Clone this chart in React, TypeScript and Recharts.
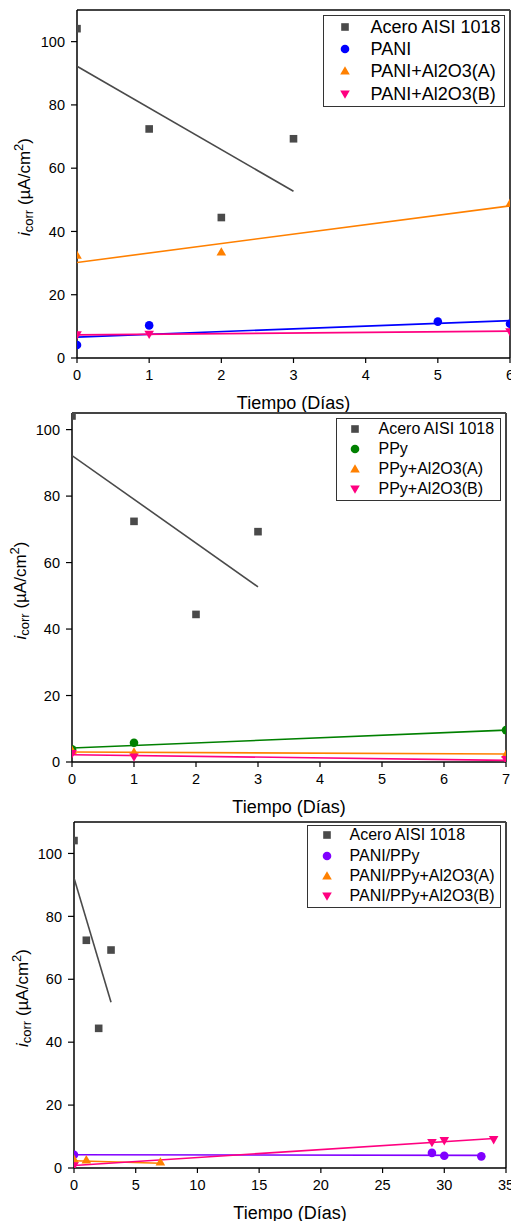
import React from 'react';
import { ComposedChart, Scatter, XAxis, YAxis, ReferenceLine, Legend } from 'recharts';

const FONT = '"Liberation Sans", Arial, Helvetica, sans-serif';

type Pt = { x: number; y: number };
type Kind = 'square' | 'circle' | 'up' | 'down';

// ---------- shared steel data ----------
const aceroPts: Pt[] = [{ x: 0, y: 104.1 }, { x: 1, y: 72.4 }, { x: 2, y: 44.4 }, { x: 3, y: 69.3 }];
const aceroFit: Pt[] = [{ x: 0, y: 92.2 }, { x: 3, y: 52.7 }];

// ---------- panel 1 ----------
const p1Names = ['Acero AISI 1018', 'PANI', 'PANI+Al2O3(A)', 'PANI+Al2O3(B)'];
const p1XTicks = [0, 1, 2, 3, 4, 5, 6];
const p1Pani: Pt[] = [{ x: 0, y: 4.1 }, { x: 1, y: 10.3 }, { x: 5, y: 11.5 }, { x: 6, y: 10.8 }];
const p1PaniFit: Pt[] = [{ x: 0, y: 6.6 }, { x: 6, y: 11.8 }];
const p1A: Pt[] = [{ x: 0, y: 32.5 }, { x: 2, y: 33.5 }, { x: 6, y: 48.9 }];
const p1AFit: Pt[] = [{ x: 0, y: 30.2 }, { x: 6, y: 48.1 }];
const p1B: Pt[] = [{ x: 0, y: 7.3 }, { x: 1, y: 7.5 }, { x: 6, y: 8.3 }];
const p1BFit: Pt[] = [{ x: 0, y: 7.3 }, { x: 6, y: 8.5 }];

// ---------- panel 2 ----------
const p2Names = ['Acero AISI 1018', 'PPy', 'PPy+Al2O3(A)', 'PPy+Al2O3(B)'];
const p2XTicks = [0, 1, 2, 3, 4, 5, 6, 7];
const p2PPy: Pt[] = [{ x: 0, y: 3.8 }, { x: 1, y: 5.8 }, { x: 7, y: 9.6 }];
const p2PPyFit: Pt[] = [{ x: 0, y: 4.2 }, { x: 7, y: 9.6 }];
const p2A: Pt[] = [{ x: 0, y: 3.5 }, { x: 1, y: 3.0 }, { x: 7, y: 2.3 }];
const p2AFit: Pt[] = [{ x: 0, y: 3.0 }, { x: 7, y: 2.4 }];
const p2B: Pt[] = [{ x: 0, y: 2.5 }, { x: 1, y: 1.5 }, { x: 7, y: 0.7 }];
const p2BFit: Pt[] = [{ x: 0, y: 2.2 }, { x: 7, y: 0.5 }];

// ---------- panel 3 ----------
const p3Names = ['Acero AISI 1018', 'PANI/PPy', 'PANI/PPy+Al2O3(A)', 'PANI/PPy+Al2O3(B)'];
const p3XTicks = [0, 5, 10, 15, 20, 25, 30, 35];
const p3Mix: Pt[] = [{ x: 0, y: 4.2 }, { x: 29, y: 4.8 }, { x: 30, y: 3.9 }, { x: 33, y: 3.7 }];
const p3MixFit: Pt[] = [{ x: 0, y: 4.2 }, { x: 33, y: 4.0 }];
const p3A: Pt[] = [{ x: 0, y: 2.8 }, { x: 1, y: 2.6 }, { x: 7, y: 1.9 }];
const p3AFit: Pt[] = [{ x: 0, y: 2.3 }, { x: 7, y: 1.5 }];
const p3B: Pt[] = [{ x: 0, y: 0.7 }, { x: 29, y: 8.1 }, { x: 30, y: 8.7 }, { x: 34, y: 9.0 }];
const p3BFit: Pt[] = [{ x: 0, y: 0.8 }, { x: 34, y: 9.4 }];

const yTicks = [0, 20, 40, 60, 80, 100];
const xTitle = 'Tiempo (Días)';

const C_ACERO = '#4a4a4a';
const C_BLUE = '#0000ff';
const C_ORANGE = '#ff8000';
const C_PINK = '#ff0080';
const C_GREEN = '#008000';
const C_VIOLET = '#8000ff';

type Series = { name: string; color: string; kind: Kind; pts: Pt[]; fit: Pt[] };

function marker(kind: Kind, cx: number, cy: number, color: string) {
  if (kind === 'square') return <rect x={cx - 3.8} y={cy - 3.8} width={7.6} height={7.6} fill={color} />;
  if (kind === 'circle') return <circle cx={cx} cy={cy} r={4.3} fill={color} />;
  if (kind === 'up')
    return <polygon points={`${cx},${cy - 4.8} ${cx + 4.8},${cy + 3.6} ${cx - 4.8},${cy + 3.6}`} fill={color} />;
  return <polygon points={`${cx - 4.8},${cy - 3.6} ${cx + 4.8},${cy - 3.6} ${cx},${cy + 4.8}`} fill={color} />;
}

type LegendGeom = { x: number; y: number; w: number; h: number; first: number; gap: number; symX: number; textX: number; fs: number };

function LegendBox({ series, g }: { series: Series[]; g: LegendGeom }) {
  return (
    <div
      style={{
        position: 'relative',
        width: g.w,
        height: g.h,
        border: '1.5px solid #333',
        boxSizing: 'border-box',
        background: '#fff',
        fontFamily: FONT,
        fontSize: g.fs,
        color: '#000',
      }}
    >
      {series.map((s, i) => (
        <div
          key={i}
          style={{ position: 'absolute', left: -1.5, top: g.first - 1.5 + i * g.gap - g.gap / 2, height: g.gap, width: g.w }}
        >
          <svg style={{ position: 'absolute', left: g.symX - 7, top: g.gap / 2 - 7 }} width={14} height={14}>
            {marker(s.kind, 7, 7, s.color)}
          </svg>
          <span style={{ position: 'absolute', left: g.textX, top: 0, lineHeight: `${g.gap}px`, whiteSpace: 'nowrap' }}>
            {s.name}
          </span>
        </div>
      ))}
    </div>
  );
}

type PanelProps = {
  top: number;
  height: number;
  right: number;
  yW: number;
  xH: number;
  xDomain: [number, number];
  xTicks: number[];
  yMax: number;
  series: Series[];
  legend: LegendGeom;
  yLabelX: number;
  xLabelOffset: number;
};

function Panel(p: PanelProps) {
  const yLabel = (props: any) => {
    const vb = props.viewBox || { y: 10, height: 340 };
    const cx = p.yLabelX;
    const cy = vb.y + vb.height / 2 + 3;
    return (
      <text
        x={cx}
        y={cy}
        transform={`rotate(-90, ${cx}, ${cy})`}
        textAnchor="middle"
        dominantBaseline="central"
        fontFamily={FONT}
        fontSize={17}
        fill="#000"
      >
        <tspan fontStyle="italic">i</tspan>
        <tspan fontSize={13} dy={4}>corr</tspan>
        <tspan dy={-4}> (µA/cm</tspan>
        <tspan fontSize={13} dy={-6}>2</tspan>
        <tspan dy={6}>)</tspan>
      </text>
    );
  };
  return (
    <div style={{ position: 'absolute', left: 0, top: p.top, width: 511, height: p.height }}>
      <ComposedChart width={511} height={p.height} margin={{ top: 10, right: p.right, left: 0, bottom: 0 }}>
        <XAxis
          type="number"
          dataKey="x"
          domain={p.xDomain}
          ticks={p.xTicks}
          allowDataOverflow
          height={p.xH}
          interval={0}
          axisLine={{ stroke: '#000', strokeWidth: 1.5 }}
          tickLine={{ stroke: '#000', strokeWidth: 1.2 }}
          tickSize={5}
          tickMargin={7}
          tick={{ fontSize: 14.5, fill: '#000', fontFamily: FONT }}
          label={{
            value: xTitle,
            position: 'insideBottom',
            offset: p.xLabelOffset,
            fontSize: 18,
            fill: '#000',
            fontFamily: FONT,
            fontWeight: 'normal',
          }}
        />
        <YAxis
          type="number"
          dataKey="y"
          domain={[0, p.yMax]}
          ticks={yTicks}
          allowDataOverflow
          width={p.yW}
          interval={0}
          axisLine={{ stroke: '#000', strokeWidth: 1.5 }}
          tickLine={{ stroke: '#000', strokeWidth: 1.2 }}
          tickSize={6}
          tickMargin={6}
          tick={{ fontSize: 14.5, fill: '#000', fontFamily: FONT }}
          label={yLabel}
        />
        <ReferenceLine y={p.yMax} stroke="#444" strokeWidth={2} />
        <ReferenceLine x={p.xDomain[1]} stroke="#444" strokeWidth={2} />
        {p.series.map((s, i) => (
          <Scatter
            key={`fit${i}`}
            data={s.fit}
            fill={s.color}
            line={{ stroke: s.color, strokeWidth: 1.6 }}
            shape={() => <g />}
            legendType="none"
            isAnimationActive={false}
          />
        ))}
        {p.series.map((s, i) => (
          <Scatter
            key={`pts${i}`}
            name={s.name}
            data={s.pts}
            fill={s.color}
            shape={(props: any) => marker(s.kind, props.cx, props.cy, s.color)}
            isAnimationActive={false}
          />
        ))}
        <Legend
          layout="vertical"
          align="center"
          verticalAlign="middle"
          wrapperStyle={{ left: p.legend.x, top: p.legend.y, width: p.legend.w, height: p.legend.h }}
          content={() => <LegendBox series={p.series} g={p.legend} />}
        />
      </ComposedChart>
    </div>
  );
}

const series1: Series[] = [
  { name: p1Names[0], color: C_ACERO, kind: 'square', pts: aceroPts, fit: aceroFit },
  { name: p1Names[1], color: C_BLUE, kind: 'circle', pts: p1Pani, fit: p1PaniFit },
  { name: p1Names[2], color: C_ORANGE, kind: 'up', pts: p1A, fit: p1AFit },
  { name: p1Names[3], color: C_PINK, kind: 'down', pts: p1B, fit: p1BFit },
];
const series2: Series[] = [
  { name: p2Names[0], color: C_ACERO, kind: 'square', pts: aceroPts, fit: aceroFit },
  { name: p2Names[1], color: C_GREEN, kind: 'circle', pts: p2PPy, fit: p2PPyFit },
  { name: p2Names[2], color: C_ORANGE, kind: 'up', pts: p2A, fit: p2AFit },
  { name: p2Names[3], color: C_PINK, kind: 'down', pts: p2B, fit: p2BFit },
];
const series3: Series[] = [
  { name: p3Names[0], color: C_ACERO, kind: 'square', pts: aceroPts, fit: aceroFit },
  { name: p3Names[1], color: C_VIOLET, kind: 'circle', pts: p3Mix, fit: p3MixFit },
  { name: p3Names[2], color: C_ORANGE, kind: 'up', pts: p3A, fit: p3AFit },
  { name: p3Names[3], color: C_PINK, kind: 'down', pts: p3B, fit: p3BFit },
];

export default function App() {
  return (
    <div style={{ position: 'absolute', left: 0, top: 0, width: 511, height: 1221, overflow: 'hidden', background: '#fff' }}>
      <Panel
        top={0}
        height={420}
        right={1}
        yW={77}
        xH={62}
        xDomain={[0, 6]}
        xTicks={p1XTicks}
        yMax={110}
        series={series1}
        legend={{ x: 322.7, y: 14.7, w: 182.3, h: 92, first: 12.6, gap: 22.3, symX: 23, textX: 48.3, fs: 18 }}
        yLabelX={24}
        xLabelOffset={11}
      />
      <Panel
        top={403}
        height={417}
        right={5}
        yW={72}
        xH={58}
        xDomain={[0, 7]}
        xTicks={p2XTicks}
        yMax={105}
        series={series2}
        legend={{ x: 335.7, y: 14.7, w: 165, h: 83, first: 11.6, gap: 20, symX: 20.3, textX: 43.3, fs: 16 }}
        yLabelX={20}
        xLabelOffset={7}
      />
      <Panel
        top={812}
        height={409}
        right={5}
        yW={74}
        xH={53}
        xDomain={[0, 35]}
        xTicks={p3XTicks}
        yMax={110}
        series={series3}
        legend={{ x: 307, y: 12.7, w: 194, h: 83, first: 11.3, gap: 20.2, symX: 20.7, textX: 43, fs: 16 }}
        yLabelX={22}
        xLabelOffset={2.5}
      />
    </div>
  );
}
